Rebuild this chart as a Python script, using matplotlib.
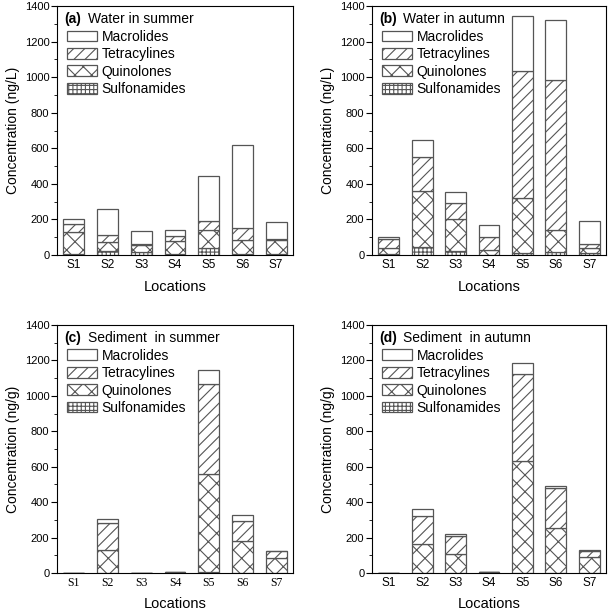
import matplotlib
matplotlib.use("Agg")
import matplotlib.pyplot as plt
from matplotlib.ticker import MultipleLocator
from matplotlib.patches import Patch
import numpy as np

plt.rcParams['font.family'] = ['Liberation Sans', 'DejaVu Sans']
plt.rcParams['hatch.linewidth'] = 0.8

locations = ['S1', 'S2', 'S3', 'S4', 'S5', 'S6', 'S7']
classes = ['Sulfonamides', 'Quinolones', 'Tetracylines', 'Macrolides']

# water, summer (ng/L)
water_summer_sulf = [3, 24, 15, 3, 37, 5, 5]
water_summer_quin = [128, 51, 41, 76, 103, 79, 82]
water_summer_tetra = [41, 37, 8, 28, 51, 66, 3]
water_summer_macro = [30, 146, 71, 33, 254, 471, 93]

# water, autumn (ng/L)
water_autumn_sulf = [3, 43, 24, 2, 13, 15, 13]
water_autumn_quin = [34, 318, 178, 26, 307, 125, 24]
water_autumn_tetra = [51, 191, 92, 71, 716, 842, 25]
water_autumn_macro = [15, 97, 58, 67, 305, 342, 127]

# sediment, summer (ng/g)
sed_summer_sulf = [0, 0, 0, 0, 5, 0, 0]
sed_summer_quin = [0, 132, 0, 3, 555, 180, 86]
sed_summer_tetra = [0, 152, 0, 0, 508, 113, 36]
sed_summer_macro = [0, 19, 0, 0, 79, 32, 0]

# sediment, autumn (ng/g)
sed_autumn_sulf = [0, 0, 0, 6, 0, 0, 0]
sed_autumn_quin = [0, 161, 109, 0, 631, 255, 90]
sed_autumn_tetra = [0, 162, 99, 0, 495, 224, 33]
sed_autumn_macro = [0, 37, 13, 0, 62, 13, 5]

hatches = ['++++', 'xx', '///', '']
edge = '#555555'

panels = [
    ('(a)', 'Water in summer', 'Concentration (ng/L)',
     [water_summer_sulf, water_summer_quin, water_summer_tetra, water_summer_macro],
     [57, 255, 236, 249]),
    ('(b)', 'Water in autumn', 'Concentration (ng/L)',
     [water_autumn_sulf, water_autumn_quin, water_autumn_tetra, water_autumn_macro],
     [372, 255, 234, 249]),
    ('(c)', 'Sediment  in summer', 'Concentration (ng/g)',
     [sed_summer_sulf, sed_summer_quin, sed_summer_tetra, sed_summer_macro],
     [57, 573, 236, 248]),
    ('(d)', 'Sediment  in autumn', 'Concentration (ng/g)',
     [sed_autumn_sulf, sed_autumn_quin, sed_autumn_tetra, sed_autumn_macro],
     [372, 573, 234, 248]),
]

W, H = 610, 613
fig = plt.figure(figsize=(W / 100, H / 100), dpi=100)

x = np.arange(1, len(locations) + 1)
for tag, title, ylabel, series, (l, b, w, h) in panels:
    ax = fig.add_axes([l / W, 1 - b / H, w / W, h / H])
    bottom = np.zeros(len(locations))
    for vals, hatch in zip(series, hatches):
        ax.bar(x, vals, width=0.62, bottom=bottom, color='white',
               edgecolor=edge, linewidth=0.9, hatch=hatch)
        bottom += np.array(vals)

    ax.set_xlim(0.5, 7.5)
    ax.set_ylim(0, 1400)
    ax.set_xticks(x)
    ax.set_xticklabels(locations)
    ax.yaxis.set_major_locator(MultipleLocator(200))
    ax.yaxis.set_minor_locator(MultipleLocator(100))
    ax.tick_params(axis='y', which='major', direction='out', length=4,
                   labelsize=8, pad=1.5)
    ax.tick_params(axis='y', which='minor', direction='out', length=2)
    ax.tick_params(axis='x', length=0, labelsize=8.5, pad=3)
    if tag == '(c)':
        for lab in ax.get_xticklabels():
            lab.set_family('Liberation Serif')
    ax.set_ylabel(ylabel, fontsize=10, labelpad=3)
    ax.set_xlabel('Locations', fontsize=10.5, labelpad=6)

    ax.text(0.032, 0.946, tag, transform=ax.transAxes, fontsize=10,
            fontweight='bold', va='center', ha='left')
    ax.text(0.133, 0.946, title, transform=ax.transAxes, fontsize=10,
            va='center', ha='left')

    handles = [Patch(facecolor='white', edgecolor=edge, hatch=hh, linewidth=0.9)
               for hh in hatches]
    ax.legend(handles[::-1], classes[::-1], loc='upper left',
              bbox_to_anchor=(0.042, 0.905), frameon=False, fontsize=10,
              borderpad=0, borderaxespad=0, handlelength=2.15,
              handleheight=0.8, handletextpad=0.35, labelspacing=0.25)

fig.savefig('out.png', dpi=100)
